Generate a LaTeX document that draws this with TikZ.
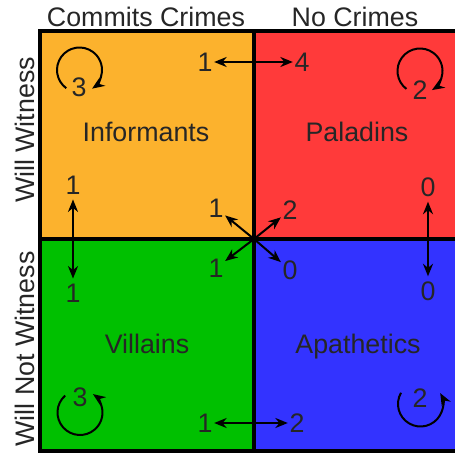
\documentclass[tikz,border=0pt]{standalone}
\usepackage{fontspec}
\setmainfont{Liberation Sans}
\usetikzlibrary{arrows.meta}

\definecolor{informC}{RGB}{252,178,45}
\definecolor{paladinC}{RGB}{255,58,58}
\definecolor{villainC}{RGB}{0,192,0}
\definecolor{apathC}{RGB}{51,51,255}
\definecolor{txtC}{RGB}{38,38,38}

\tikzset{
  lbl/.style={font=\fontsize{26.8}{32}\selectfont, text=txtC, inner xsep=1.5pt, inner ysep=5pt},
  dbl/.style={{Stealth[length=12.5pt, width=10pt, inset=4pt]}-{Stealth[length=12.5pt, width=10pt, inset=4pt]}, line width=2pt},
  one/.style={-{Stealth[length=12.5pt, width=10pt, inset=4pt]}, line width=2pt},
  border/.style={line width=4pt}
}

\begin{document}
\begin{tikzpicture}[x=1pt, y=1pt]
\useasboundingbox (0,0) rectangle (455,453);

% quadrants
\fill[informC] (40,214) rectangle (254,421.5);
\fill[paladinC] (254,214) rectangle (466,421.5);
\fill[villainC] (40,2.5) rectangle (254,214);
\fill[apathC] (254,2.5) rectangle (466,214);
\draw[border] (40,2.5) rectangle (466,421.5);
\draw[border] (254,2.5) -- (254,421.5);
\draw[border] (40,214) -- (466,214);

% headers
\node[lbl] (CC) at (146,436) {Commits Crimes};
\node[lbl] (NC) at (355,436) {No Crimes};
\node[lbl, rotate=90] (WW) at (25,323) {Will Witness};
\node[lbl, rotate=90] (WNW) at (25,104) {Will Not Witness};

% cell names
\node[lbl, anchor=base] (I) at (146,311) {Informants};
\node[lbl, anchor=base] (P) at (357,311) {Paladins};
\node[lbl, anchor=base] (V) at (147,100) {Villains};
\node[lbl, anchor=base] (A) at (358,100) {Apathetics};

% counts
\node[lbl] (I1) at (205,391) {1};
\node[lbl] (P1) at (302,391) {4};
\node[lbl] (I2) at (73,268) {1};
\node[lbl] (V2) at (73,160) {1};
\node[lbl] (P2) at (428,266) {0};
\node[lbl] (A2) at (428,162) {0};
\node[lbl] (V1) at (205,30) {1};
\node[lbl] (A1) at (297,30) {2};
\node[lbl] (I3) at (216,245) {1};
\node[lbl] (P3) at (290,243) {2};
\node[lbl] (V3) at (216,185) {1};
\node[lbl] (A3) at (290,183) {0};
\node[lbl] (IL) at (79,366) {3};
\node[lbl] (PL) at (420,363) {2};
\node[lbl] (VL) at (80,56) {3};
\node[lbl] (AL) at (420,55) {2};

\draw[dbl] (I1) -- (P1);
\draw[dbl] (I2) -- (V2);
\draw[dbl] (P2) -- (A2);
\draw[dbl] (V1) -- (A1);

\coordinate (X) at (254,214);
\draw[one] (X) -- (I3);
\draw[one] (X) -- (P3);
\draw[one] (X) -- (V3);
\draw[one] (X) -- (A3);

% loops
\coordinate (IC) at (79.5,383);
\coordinate (PC) at (420,382);
\coordinate (VC) at (80,40.5);
\coordinate (AC) at (420.5,49);
\draw[one] (IC) ++(234:22.5) arc[start angle=234, end angle=-56, radius=22.5];
\draw[one] (PC) ++(233:22.5) arc[start angle=233, end angle=-58, radius=22.5];
\draw[one] (VC) ++(131:22.5) arc[start angle=131, end angle=415, radius=22.5];
\draw[one] (AC) ++(150:22.5) arc[start angle=150, end angle=389, radius=22.5];
\end{tikzpicture}
\end{document}
